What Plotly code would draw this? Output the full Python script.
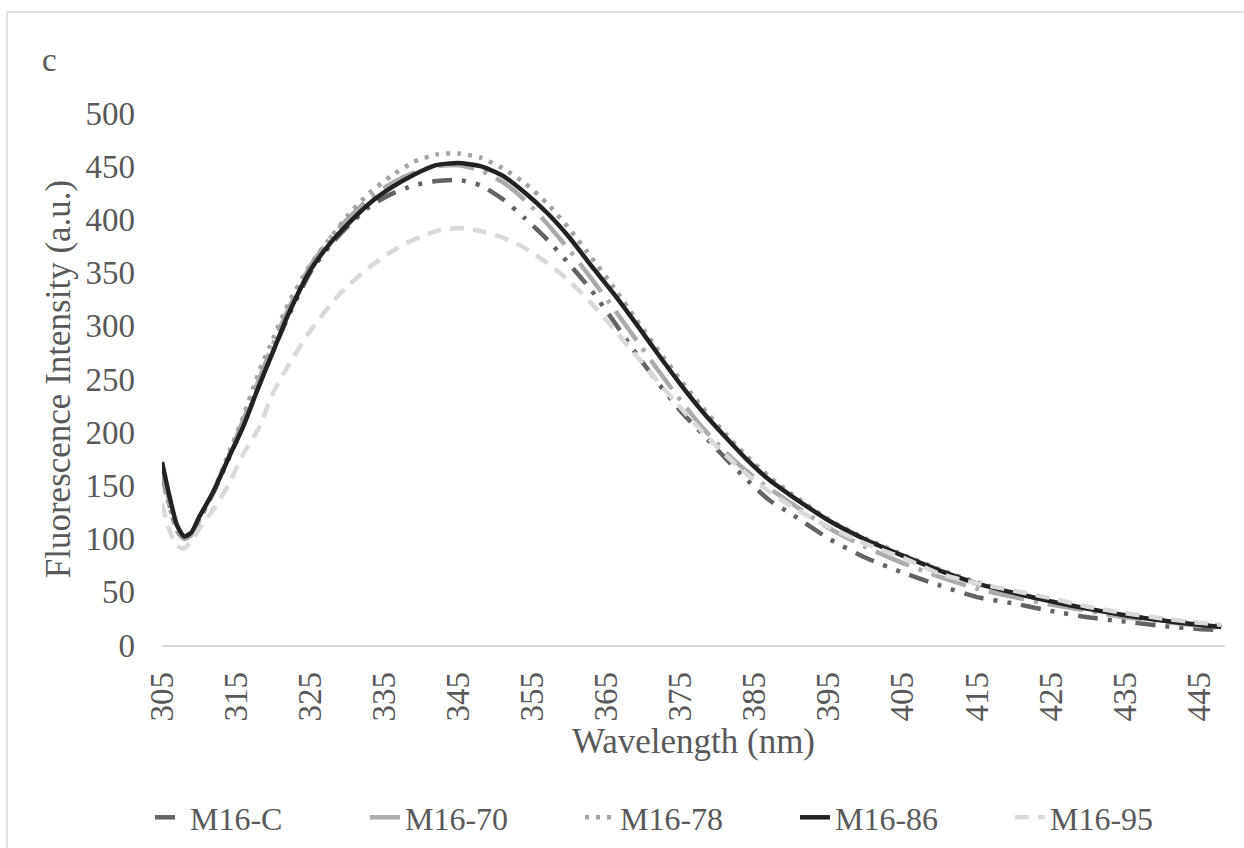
import plotly.graph_objects as go

wavelength = [305, 306, 307, 308, 309, 310, 312, 314, 316, 318, 320, 322, 325, 328, 330,
              333, 336, 339, 342, 345, 348, 351, 354, 357, 360, 363, 366, 369, 372, 375,
              378, 381, 384, 387, 390, 395, 400, 405, 410, 415, 420, 425, 430, 435, 440,
              445, 448]

m16_c = [160, 132, 108, 100, 104, 117, 144, 175, 207, 242, 276, 308, 350, 378, 393,
         412, 424, 432, 436, 437, 432, 419, 401, 381, 358, 333, 304, 274, 246, 220,
         198, 176, 155, 136, 123, 100, 82, 68, 56, 45, 39, 32, 26, 22, 18,
         15, 14]

m16_70 = [162, 135, 110, 100, 104, 117, 145, 178, 212, 248, 283, 315, 356, 385, 400,
          420, 434, 444, 450, 451, 446, 435, 418, 396, 371, 344, 316, 287, 258, 230,
          204, 182, 163, 147, 133, 110, 92, 77, 64, 53, 45, 38, 32, 26, 22,
          18, 16]

m16_78 = [157, 130, 108, 100, 105, 118, 146, 180, 215, 255, 288, 320, 357, 385, 403,
          425, 441, 454, 461, 462, 458, 448, 434, 415, 391, 364, 336, 306, 277, 249,
          223, 199, 177, 158, 142, 118, 100, 85, 71, 59, 49, 41, 34, 28, 24,
          20, 18]

m16_86 = [172, 140, 113, 102, 106, 120, 145, 176, 206, 242, 276, 310, 352, 380, 395,
          415, 430, 442, 451, 453, 450, 441, 425, 406, 383, 356, 330, 302, 273, 245,
          219, 196, 174, 155, 140, 117, 99, 84, 70, 58, 49, 41, 34, 28, 23,
          19, 17]

m16_95 = [133, 108, 93, 91, 98, 109, 128, 151, 180, 203, 237, 262, 295, 322, 337,
          355, 370, 381, 389, 392, 389, 383, 373, 359, 342, 321, 297, 272, 247, 223,
          200, 179, 160, 144, 130, 111, 95, 82, 67, 58, 51, 44, 36, 30, 25,
          21, 19]

series_names = ["M16-C", "M16-70", "M16-78", "M16-86", "M16-95"]
series_values = [m16_c, m16_70, m16_78, m16_86, m16_95]
series_colors = ["#636363", "#ABABAB", "#A3A3A3", "#222222", "#D9D9D9"]
series_dash = ["20px,10px,4px,10px,4px,10px", "36px,10px,4px,10px", "4px,7px", "solid", "14px,9px"]

x_ticks = list(range(305, 446, 10))
y_ticks = list(range(0, 501, 50))

FONT = "Liberation Serif, Times New Roman, serif"
TXT = "#595959"
TICK_SIZE = 33
TITLE_SIZE = 35
LEGEND_SIZE = 32

fig = go.Figure()
for name, vals, col, dash in zip(series_names, series_values, series_colors, series_dash):
    fig.add_trace(go.Scatter(
        x=wavelength, y=vals, name=name, mode="lines",
        line=dict(color=col, width=4.5, dash=dash, shape="spline", smoothing=0.6),
    ))

W, H = 1244, 848
L, R, T, B = 162, 19, 113, 203
pw = W - L - R
ph = H - T - B

def px_x(px):
    return (px - L) / pw

def px_y(py):
    return (H - B - py) / ph

fig.update_layout(
    width=W, height=H,
    margin=dict(l=L, r=R, t=T, b=B, autoexpand=False),
    paper_bgcolor="white", plot_bgcolor="white",
    font=dict(family=FONT, size=TICK_SIZE, color=TXT),
    showlegend=True,
    legend=dict(
        orientation="h", x=px_x(150), y=px_y(790), xanchor="left", yanchor="top",
        font=dict(family=FONT, size=LEGEND_SIZE, color=TXT),
        entrywidth=170, entrywidthmode="pixels",
        bgcolor="rgba(0,0,0,0)", borderwidth=0,
    ),
    xaxis=dict(
        range=[305, 448.5], tickmode="array", tickvals=x_ticks,
        ticktext=[str(v) for v in x_ticks], tickangle=-90,
        showgrid=False, zeroline=False, showline=True, linecolor="#D9D9D9", linewidth=1.5,
        ticks="", ticklabelstandoff=12,
        tickfont=dict(family=FONT, size=TICK_SIZE, color=TXT),
        title=dict(text="Wavelength (nm)", font=dict(family=FONT, size=TITLE_SIZE, color=TXT), standoff=8),
    ),
    yaxis=dict(
        range=[0, 500], tickmode="array", tickvals=y_ticks,
        showgrid=False, zeroline=False, showline=False, ticks="",
        ticklabelstandoff=26,
        tickfont=dict(family=FONT, size=TICK_SIZE, color=TXT),
        title=dict(text="Fluorescence Intensity (a.u.)", font=dict(family=FONT, size=TITLE_SIZE, color=TXT), standoff=4),
    ),
    annotations=[dict(
        text="c", x=px_x(40), y=px_y(60), xref="paper", yref="paper",
        xanchor="left", yanchor="middle", showarrow=False,
        font=dict(family=FONT, size=TICK_SIZE, color=TXT),
    )],
    shapes=[dict(
        type="rect", xref="paper", yref="paper",
        x0=px_x(7), x1=px_x(1260), y0=px_y(870), y1=px_y(12),
        line=dict(color="#D9D9D9", width=1.5), fillcolor="rgba(0,0,0,0)", layer="below",
    )],
)

fig.write_html("out.html")
